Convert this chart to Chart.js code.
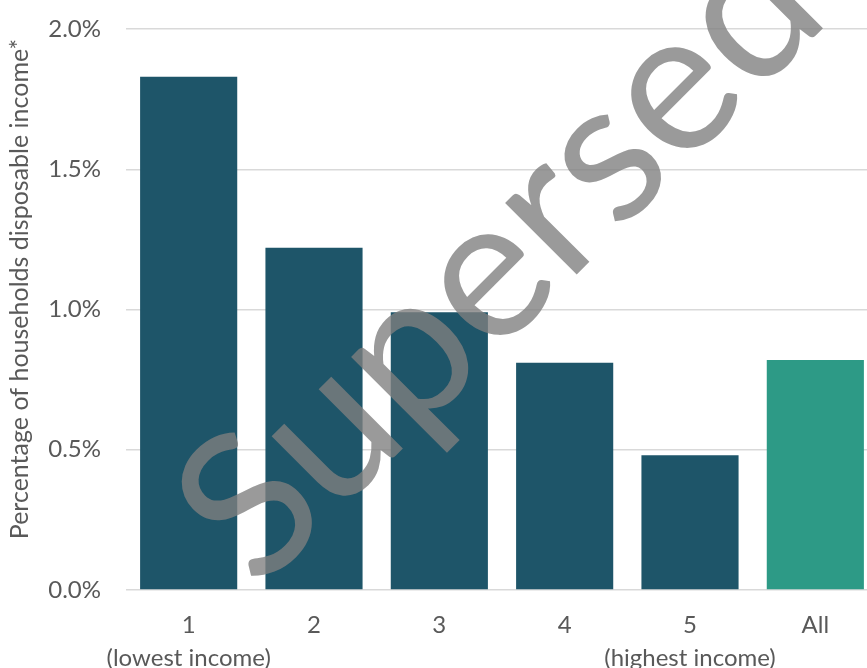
<!DOCTYPE html>
<html>
<head>
<meta charset="utf-8">
<script src="https://cdn.jsdelivr.net/npm/chart.js@4"></script>
<style>
  html, body { margin: 0; padding: 0; background: #fff; overflow: hidden; }
  #wrap { position: absolute; left: 0; top: 0; width: 880px; height: 668px; }
</style>
</head>
<body>
<div id="wrap"><canvas id="chart" width="880" height="668"></canvas></div>
<script>
// income quintiles, values (% of disposable income)
const groups = [['1', '(lowest income)'], '2', '3', '4', ['5', '(highest income)'], 'All'];
const shares = [1.83, 1.22, 0.99, 0.81, 0.48, 0.82];
const barColours = ['#1e5569', '#1e5569', '#1e5569', '#1e5569', '#1e5569', '#2d9a86'];
const yTicks = [0, 0.5, 1.0, 1.5, 2.0];
const yTitle = 'Percentage of households disposable income*';
const watermark = 'Superseded';

const textGrey = '#595959';

// y axis title, placed by hand so it sits where the original one does
const yTitlePlugin = {
  id: 'yTitle',
  afterDraw(chart) {
    const ctx = chart.ctx;
    ctx.save();
    ctx.translate(20, 289);
    ctx.rotate(-Math.PI / 2);
    ctx.font = '25px Lato';
    ctx.fillStyle = textGrey;
    ctx.textAlign = 'center';
    ctx.textBaseline = 'middle';
    ctx.fillText(yTitle, 0, 0);
    ctx.restore();
  }
};

// grey diagonal stamp drawn over the bars
const stampPlugin = {
  id: 'stamp',
  afterDraw(chart) {
    const ctx = chart.ctx;
    ctx.save();
    ctx.translate(213, 547);
    ctx.rotate(-Math.PI / 4);
    ctx.font = '200px Lato';
    ctx.fillStyle = 'rgba(127,127,127,0.79)';
    ctx.textAlign = 'left';
    ctx.textBaseline = 'middle';
    ctx.fillText(watermark, 0, 0);
    ctx.restore();
  }
};

function makeChart() {
  const target = document.querySelector('#chart');
  return new Chart(target, {
    type: 'bar',
    data: {
      labels: groups,
      datasets: [{
        data: shares,
        backgroundColor: barColours,
        barPercentage: 0.775,
        categoryPercentage: 1.0
      }]
    },
    options: {
      responsive: false,
      animation: false,
      layout: { padding: { top: 29, right: 2, left: 0, bottom: 0 } },
      plugins: { legend: { display: false }, tooltip: { enabled: false } },
      scales: {
        x: {
          grid: { display: false },
          border: { display: false },
          ticks: {
            color: textGrey,
            font: { family: 'Lato', size: 24, lineHeight: 1.4 },
            padding: 10,
            maxRotation: 0,
            autoSkip: false
          },
          afterFit: (scale) => { scale.height = 78; }
        },
        y: {
          min: 0,
          max: 2.0,
          afterBuildTicks: (scale) => { scale.ticks = yTicks.map((v) => ({ value: v })); },
          border: { display: false },
          grid: { color: '#d9d9d9', lineWidth: 1.5, drawTicks: false },
          ticks: {
            color: textGrey,
            font: { family: 'Lato', size: 24 },
            padding: 25,
            callback: (v) => v.toFixed(1) + '%'
          },
          afterFit: (scale) => {
            scale.width = 126;
            // keep the label overhang from pushing the plot down
            scale.paddingTop = 0;
            scale.paddingBottom = 0;
          }
        }
      }
    },
    plugins: [yTitlePlugin, stampPlugin]
  });
}

document.addEventListener('DOMContentLoaded', () => makeChart());
</script>
</body>
</html>
